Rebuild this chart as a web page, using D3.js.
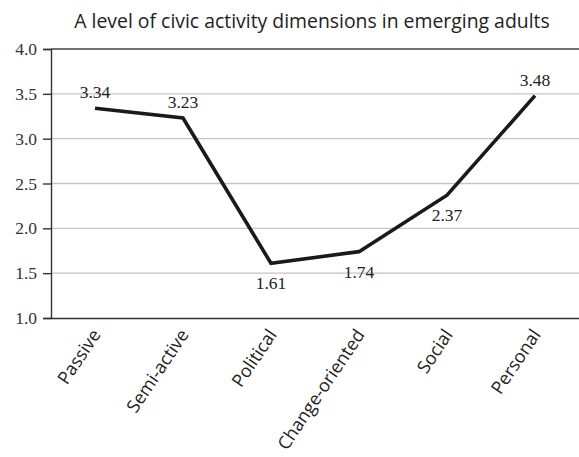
<!DOCTYPE html>
<html>
<head>
<meta charset="utf-8">
<script src="https://cdn.jsdelivr.net/npm/d3@7"></script>
<style>
  body { margin: 0; background: #fff; }
  svg { display: block; }
</style>
</head>
<body>
<div id="chart"></div>
<script>
// ── Data ───────────────────────────────────────────────────────────────
const categories = ["Passive", "Semi-active", "Political", "Change-oriented", "Social", "Personal"];
const values = [3.34, 3.23, 1.61, 1.74, 2.37, 3.48];
const labelPos = ["above", "above", "below", "below", "below", "above"];
const yTicks = [1.0, 1.5, 2.0, 2.5, 3.0, 3.5, 4.0];
const title = "A level of civic activity dimensions in emerging adults";

// ── Setup ──────────────────────────────────────────────────────────────
const W = 579, H = 457;
const M = { top: 49, right: 0, bottom: 139, left: 51 };

const svg = d3.select("#chart").append("svg").attr("width", W).attr("height", H);

const x = d3.scaleBand().domain(categories).range([M.left, W - M.right]);
const y = d3.scaleLinear().domain([1, 4]).range([H - M.bottom, M.top]);
const cx = c => x(c) + x.bandwidth() / 2;

const SERIF = "'Liberation Serif', 'DejaVu Serif', serif";
const SANS = "'Open Sans', Lato, sans-serif";

// ── Title ──
svg.append("text")
  .attr("x", 312).attr("y", 28)
  .attr("text-anchor", "middle")
  .attr("font-family", SANS).attr("font-size", 19.4)
  .attr("fill", "#222")
  .text(title);

// ── Grid ──
svg.append("g").selectAll("line").data(yTicks.filter(t => t > 1 && t < 4)).join("line")
  .attr("x1", M.left).attr("x2", W - M.right)
  .attr("y1", d => y(d)).attr("y2", d => y(d))
  .attr("stroke", "#c4c4c4").attr("stroke-width", 1.4);

// top border line
svg.append("line")
  .attr("x1", M.left).attr("x2", W - M.right)
  .attr("y1", y(4)).attr("y2", y(4))
  .attr("stroke", "#444").attr("stroke-width", 1.4);

// ── Y axis ──
const yAxis = svg.append("g")
  .attr("transform", `translate(${M.left},0)`)
  .call(d3.axisLeft(y).tickValues(yTicks).tickFormat(d3.format(".1f")).tickSize(8).tickPadding(6));
yAxis.select(".domain").attr("stroke", "#333").attr("stroke-width", 1.4);
yAxis.selectAll(".tick line").attr("stroke", "#333").attr("stroke-width", 1.4);
yAxis.selectAll(".tick text")
  .attr("font-family", SERIF).attr("font-size", 17.5).attr("fill", "#333");

// ── X axis ──
const xAxis = svg.append("g")
  .attr("transform", `translate(0,${y(1)})`)
  .call(d3.axisBottom(x).tickSize(0).tickSizeOuter(0));
xAxis.select(".domain").attr("stroke", "#333").attr("stroke-width", 1.4);
xAxis.selectAll(".tick text")
  .attr("font-family", SANS).attr("font-size", 18).attr("fill", "#222")
  .attr("text-anchor", "end")
  .attr("dy", 0)
  .attr("transform", "translate(4,15) rotate(-56)");

// ── Line ──
const line = d3.line().x((d, i) => cx(categories[i])).y(d => y(d));
svg.append("path")
  .datum(values)
  .attr("d", line)
  .attr("fill", "none")
  .attr("stroke", "#1a1a1a")
  .attr("stroke-width", 3.6)
  .attr("stroke-linejoin", "miter");

// ── Data labels ──
svg.append("g").selectAll("text").data(values).join("text")
  .attr("x", (d, i) => cx(categories[i]))
  .attr("y", (d, i) => labelPos[i] === "above" ? y(d) - 10 : y(d) + 26)
  .attr("text-anchor", "middle")
  .attr("font-family", SERIF).attr("font-size", 17.5).attr("fill", "#222")
  .text(d => d.toFixed(2));
</script>
</body>
</html>
